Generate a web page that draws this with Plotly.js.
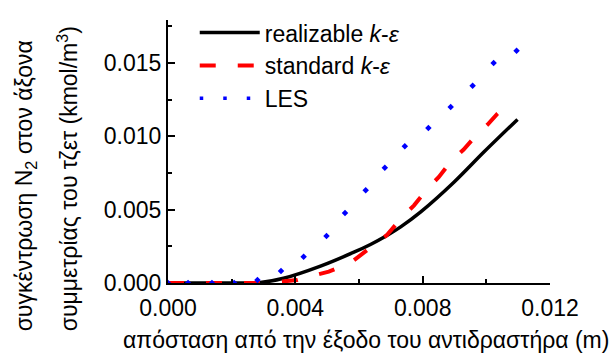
<!DOCTYPE html>
<html>
<head>
<meta charset="utf-8">
<script src="https://cdn.plot.ly/plotly-3.0.1.min.js"></script>
<style>html,body{margin:0;padding:0;background:#fff;}#chart{width:613px;height:356px;}</style>
</head>
<body>
<div id="chart"></div>
<script>
// realizable k-epsilon
const realX = [0, 0.0010, 0.0020, 0.0026, 0.0029, 0.00363, 0.00479, 0.00584, 0.00636, 0.00689, 0.00731, 0.00794, 0.00899, 0.00993, 0.01098];
const realY = [0, 0, 0, 0, 0.00003, 0.00032, 0.00115, 0.0021, 0.00263, 0.00326, 0.00383, 0.00485, 0.00689, 0.00895, 0.01116];
// standard k-epsilon
const stdX = [0, 0.0020, 0.0030, 0.00358, 0.00405, 0.00463, 0.00505, 0.00571, 0.00605, 0.00655, 0.00687, 0.00736, 0.00773, 0.00815, 0.00851, 0.00891, 0.00928, 0.00972, 0.01004, 0.01035, 0.01072];
const stdY = [0, 0, 0, 0.0001, 0.0002, 0.00054, 0.00077, 0.00134, 0.0019, 0.0027, 0.00326, 0.0045, 0.0053, 0.00644, 0.00723, 0.00836, 0.00909, 0.01017, 0.01081, 0.01155, 0.01225];
// LES (dotted)
const lesX = [0, 0.00063, 0.00138, 0.00208, 0.00281, 0.00355, 0.00426, 0.00498, 0.00556, 0.00621, 0.00681, 0.00744, 0.00818, 0.00888, 0.00957, 0.01023, 0.01095];
const lesY = [0, 0, 0, 0, 0.0002, 0.00082, 0.00179, 0.00321, 0.00478, 0.00632, 0.00786, 0.00933, 0.01058, 0.0120, 0.01346, 0.0150, 0.01584];

const seriesNames = ['realizable <i>k</i>-<i>ε</i>', 'standard <i>k</i>-<i>ε</i>', 'LES'];
const xTitle = 'απόσταση από την έξοδο του αντιδραστήρα (m)';
const yTitle1 = 'συγκέντρωση N<sub>2</sub> στον άξονα';
const yTitle2 = 'συμμετρίας του τζετ (kmol/m<sup>3</sup>)';

const FONT = 'Liberation Sans, Arial, sans-serif';

const traces = [
  {x: realX, y: realY, mode: 'lines', name: seriesNames[0],
   line: {color: '#000000', width: 3.5, shape: 'spline', smoothing: 0.8}},
  {x: stdX, y: stdY, mode: 'lines', name: seriesNames[1],
   line: {color: '#ff0000', width: 4, dash: '16px,22px'}},
  {x: [null], y: [null], mode: 'lines', name: seriesNames[2],
   line: {color: '#0000ff', width: 3.5, dash: '3.5px,20px'}},
  {x: lesX, y: lesY, mode: 'markers', name: seriesNames[2], showlegend: false,
   marker: {color: '#0000ff', symbol: 'diamond', size: 5, line: {width: 0}}}
];

const layout = {
  width: 613, height: 356,
  margin: {l: 168, r: 63, t: 19, b: 73, pad: 0},
  paper_bgcolor: '#ffffff', plot_bgcolor: '#ffffff',
  font: {family: FONT, size: 23, color: '#000000'},
  showlegend: true,
  legend: {x: 0.07, y: 1.03, xanchor: 'left', yanchor: 'top', bgcolor: 'rgba(0,0,0,0)',
           font: {family: FONT, size: 23, color: '#000'}, itemwidth: 60, tracegroupgap: 0},
  xaxis: {range: [0, 0.012], dtick: 0.004, tick0: 0, tickformat: '.3f',
          showline: true, linecolor: '#000', linewidth: 2, mirror: false,
          ticks: 'inside', ticklen: 7, tickwidth: 2, tickcolor: '#000',
          minor: {ticks: 'inside', ticklen: 4, tickwidth: 2, dtick: 0.002, tickcolor: '#000', showgrid: false},
          showgrid: false, zeroline: false, ticklabelstandoff: 3,
          tickfont: {family: FONT, size: 23, color: '#000'}},
  yaxis: {range: [0, 0.01794], dtick: 0.005, tick0: 0, tickformat: '.3f',
          showline: true, linecolor: '#000', linewidth: 2, mirror: false,
          ticks: 'inside', ticklen: 7, tickwidth: 2, tickcolor: '#000',
          minor: {ticks: 'inside', ticklen: 4, tickwidth: 2, dtick: 0.0025, tickcolor: '#000', showgrid: false},
          showgrid: false, zeroline: false,
          tickfont: {family: FONT, size: 23, color: '#000'}},
  annotations: [
    {text: xTitle, xref: 'paper', yref: 'paper', x: 0.518, y: -0.216, xanchor: 'center', yanchor: 'middle',
     showarrow: false, font: {family: FONT, size: 23, color: '#000'}},
    {text: yTitle1, xref: 'paper', yref: 'paper', x: -0.372, y: 0.371, xanchor: 'center', yanchor: 'middle',
     textangle: -90, showarrow: false, font: {family: FONT, size: 23, color: '#000'}},
    {text: yTitle2, xref: 'paper', yref: 'paper', x: -0.262, y: 0.398, xanchor: 'center', yanchor: 'middle',
     textangle: -90, showarrow: false, font: {family: FONT, size: 23, color: '#000'}}
  ]
};

Plotly.newPlot('chart', traces, layout, {staticPlot: true, displayModeBar: false});
</script>
</body>
</html>
